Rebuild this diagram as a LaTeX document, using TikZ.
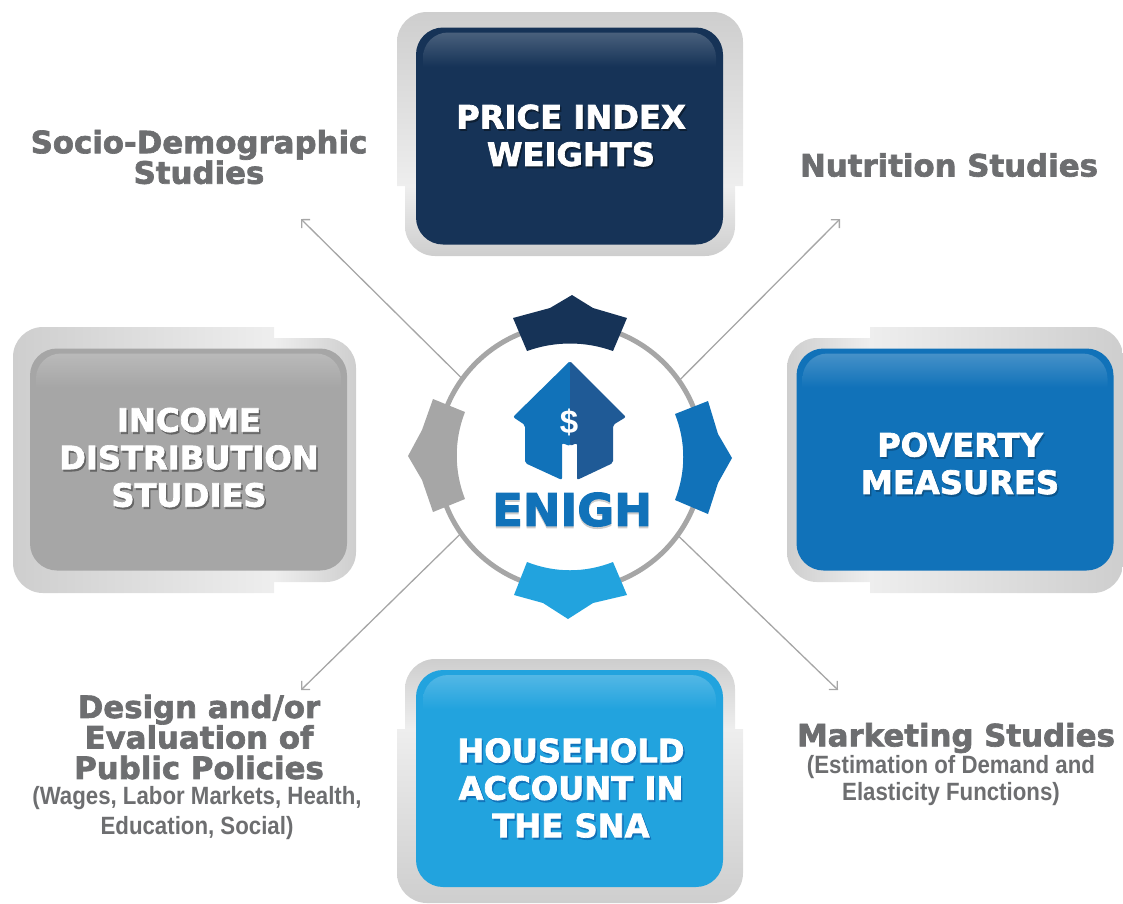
\documentclass[tikz,border=0pt]{standalone}
\usepackage{fontspec}
\usepackage{xcolor}
\usetikzlibrary{positioning,arrows.meta}
\newfontfamily\heavyfont[FakeBold=2.2]{DejaVu Sans Bold}
\newfontfamily\narrowfont[FakeStretch=0.89]{Liberation Sans Bold}
\newfontfamily\dollarfont{Liberation Sans Bold}
\definecolor{navy}{HTML}{163357}
\definecolor{midblue}{HTML}{1172B9}
\definecolor{skyblue}{HTML}{22A3DE}
\definecolor{boxgrey}{HTML}{A6A6A6}
\definecolor{roofblue}{HTML}{1F5A96}
\definecolor{labelgrey}{HTML}{6D6E70}
\definecolor{framedark}{HTML}{CECECE}
\definecolor{framelight}{HTML}{EEEEEE}
\begin{document}
\begin{tikzpicture}
[
x=1pt, y=-1pt,
box-a/.style={rectangle, rounded corners=27pt, minimum width=307pt, minimum height=217pt, inner sep=0pt, outer sep=0pt},
box-b/.style={rectangle, rounded corners=27pt, minimum width=317pt, minimum height=222pt, inner sep=0pt, outer sep=0pt},
gloss-a/.style={rectangle, rounded corners=25pt, minimum width=293pt, minimum height=68pt, inner sep=0pt, outer sep=0pt, top color=#1!78!white, bottom color=#1, middle color=#1},
gloss-b/.style={rectangle, rounded corners=25pt, minimum width=305pt, minimum height=68pt, inner sep=0pt, outer sep=0pt, top color=#1!78!white, bottom color=#1, middle color=#1},
frame-v/.style={top color=framedark, bottom color=framelight},
frame-w/.style={top color=framelight, bottom color=framedark},
frame-l/.style={left color=framedark, right color=framelight},
frame-r/.style={left color=framelight, right color=framedark},
text-a/.style={text=white, align=center, font=\heavyfont\fontsize{32.2}{37.5}\selectfont, inner sep=0pt},
text-b/.style={text=labelgrey, align=center, font=\heavyfont\fontsize{30.8}{30.5}\selectfont, inner sep=0pt},
text-c/.style={text=labelgrey, align=center, font=\narrowfont\fontsize{25}{30}\selectfont, inner sep=0pt},
link/.style={draw=boxgrey, line width=1.3pt, -{Straight Barb[length=6pt,width=12pt]}}
]
\useasboundingbox (0,0) rectangle (1123,903);
% frames
\shade[frame-w] (405,186) [rounded corners=30pt] -- (405,256) -- (735,256) [sharp corners] -- (735,186) -- cycle;
\shade[frame-v] (397,186) [rounded corners=30pt] -- (397,12) -- (743,12) [sharp corners] -- (743,186) -- cycle;
\shade[frame-v] (405,729) [rounded corners=30pt] -- (405,659) -- (735,659) [sharp corners] -- (735,729) -- cycle;
\shade[frame-w] (397,729) [rounded corners=30pt] -- (397,903) -- (743,903) [sharp corners] -- (743,729) -- cycle;
\shade[frame-r] (274,338) [rounded corners=30pt] -- (356,338) -- (356,582) [sharp corners] -- (274,582) -- cycle;
\shade[frame-l] (274,327) [rounded corners=30pt] -- (13,327) -- (13,593) [sharp corners] -- (274,593) -- cycle;
\shade[frame-l] (870,338) [rounded corners=30pt] -- (787,338) -- (787,582) [sharp corners] -- (870,582) -- cycle;
\shade[frame-r] (870,327) [rounded corners=30pt] -- (1123,327) -- (1123,593) [sharp corners] -- (870,593) -- cycle;
% boxes
\node (box-price)   [box-a, fill=navy]     at (569.5,136)   {};
\node (box-account) [box-a, fill=skyblue]  at (569.5,778.5) {};
\node (box-income)  [box-b, fill=boxgrey]  at (188.5,459.5) {};
\node (box-poverty) [box-b, fill=midblue]  at (955,459.5)   {};
\node (gloss-price)   [gloss-a=navy,    below = 5pt of box-price.north]   {};
\node (gloss-account) [gloss-a=skyblue, below = 5pt of box-account.north] {};
\node (gloss-income)  [gloss-b=boxgrey, below = 5pt of box-income.north]  {};
\node (gloss-poverty) [gloss-b=midblue, below = 5pt of box-poverty.north] {};
% box texts
\node (shadow-price)   [text-a, text=navy!60!black]    at (572.5,137.5) {PRICE INDEX\\WEIGHTS};
\node (text-price)     [text-a]                        at (571,135.5)   {PRICE INDEX\\WEIGHTS};
\node (shadow-account) [text-a, text=midblue]          at (572.5,790)   {HOUSEHOLD\\ACCOUNT IN\\THE SNA};
\node (text-account)   [text-a]                        at (571,788)     {HOUSEHOLD\\ACCOUNT IN\\THE SNA};
\node (shadow-income)  [text-a, text=boxgrey!60!black] at (190.5,459.5) {INCOME\\DISTRIBUTION\\STUDIES};
\node (text-income)    [text-a]                        at (189,457.5)   {INCOME\\DISTRIBUTION\\STUDIES};
\node (shadow-poverty) [text-a, text=midblue!75!black] at (961.5,465.5) {POVERTY\\MEASURES};
\node (text-poverty)   [text-a]                        at (960,463.5)   {POVERTY\\MEASURES};
% labels
\node (socio)     [text-b] at (199,157)   {Socio-Demographic\\Studies};
\node (nutrition) [text-b] at (949,165)   {Nutrition Studies};
\node (design)    [text-b] at (199,737)   {Design and/or\\Evaluation of\\Public Policies};
\node (wages)     [text-c] at (197,813)   {(Wages, Labor Markets, Health,\\Education, Social)};
\node (marketing) [text-b] at (956,738)   {Marketing Studies};
\node (demand)    [text-c, font=\narrowfont\fontsize{25}{27}\selectfont] at (951,780.5) {(Estimation of Demand and\\Elasticity Functions)};
% ring and arrows
\node (ring) [circle, draw=boxgrey, line width=5pt, minimum size=266pt, inner sep=0pt, outer sep=0pt] at (570,457) {};
\coordinate (tip-socio)     at (301,219);
\coordinate (tip-nutrition) at (840,219);
\coordinate (tip-design)    at (301,690);
\coordinate (tip-marketing) at (838,690);
\draw[link] (ring.144.6) -- (tip-socio);
\draw[link] (ring.35.4)  -- (tip-nutrition);
\draw[link] (ring.215.4) -- (tip-design);
\draw[link] (ring.324.6) -- (tip-marketing);
% ring pieces
\fill[navy]    (513,318) -- (550,308) -- (572,295) -- (593,308) -- (627,318) -- (613,351) .. controls (585,341) and (555,341) .. (527,351) -- cycle;
\fill[skyblue] (514,595) -- (543,603) -- (568,619) -- (593,603) -- (627,595) -- (613,562) .. controls (585,573) and (555,573) .. (527,562) -- cycle;
\fill[boxgrey] (408,456) -- (422,430) -- (433,399) -- (465,412) .. controls (454,440) and (454,471) .. (465,499) -- (433,512) -- (422,480) -- cycle;
\fill[midblue] (732,458) -- (718,434) -- (708,401) -- (675,414) .. controls (686,442) and (686,472) .. (675,500) -- (708,514) -- (718,483) -- cycle;
% house
\fill[midblue, rounded corners=2pt] (570,361) -- (513,417) -- (525,425) -- (525,463) -- (562,480) -- (562,443) -- (570,446) -- cycle;
\fill[roofblue, rounded corners=2pt] (570,361) -- (626,417) -- (613,425) -- (613,463) -- (577,480) -- (577,443) -- (570,446) -- cycle;
\node (dollar) [text=white, font=\dollarfont\fontsize{33}{33}\selectfont, inner sep=0pt] at (569,422) {\$};
\node (enigh-shadow) [text=black!20, font=\heavyfont\fontsize{45}{45}\selectfont, inner sep=0pt] at (572,511.5) {ENIGH};
\node (enigh) [text=midblue, font=\heavyfont\fontsize{45}{45}\selectfont, inner sep=0pt] at (572,509.5) {ENIGH};
\end{tikzpicture}
\end{document}
